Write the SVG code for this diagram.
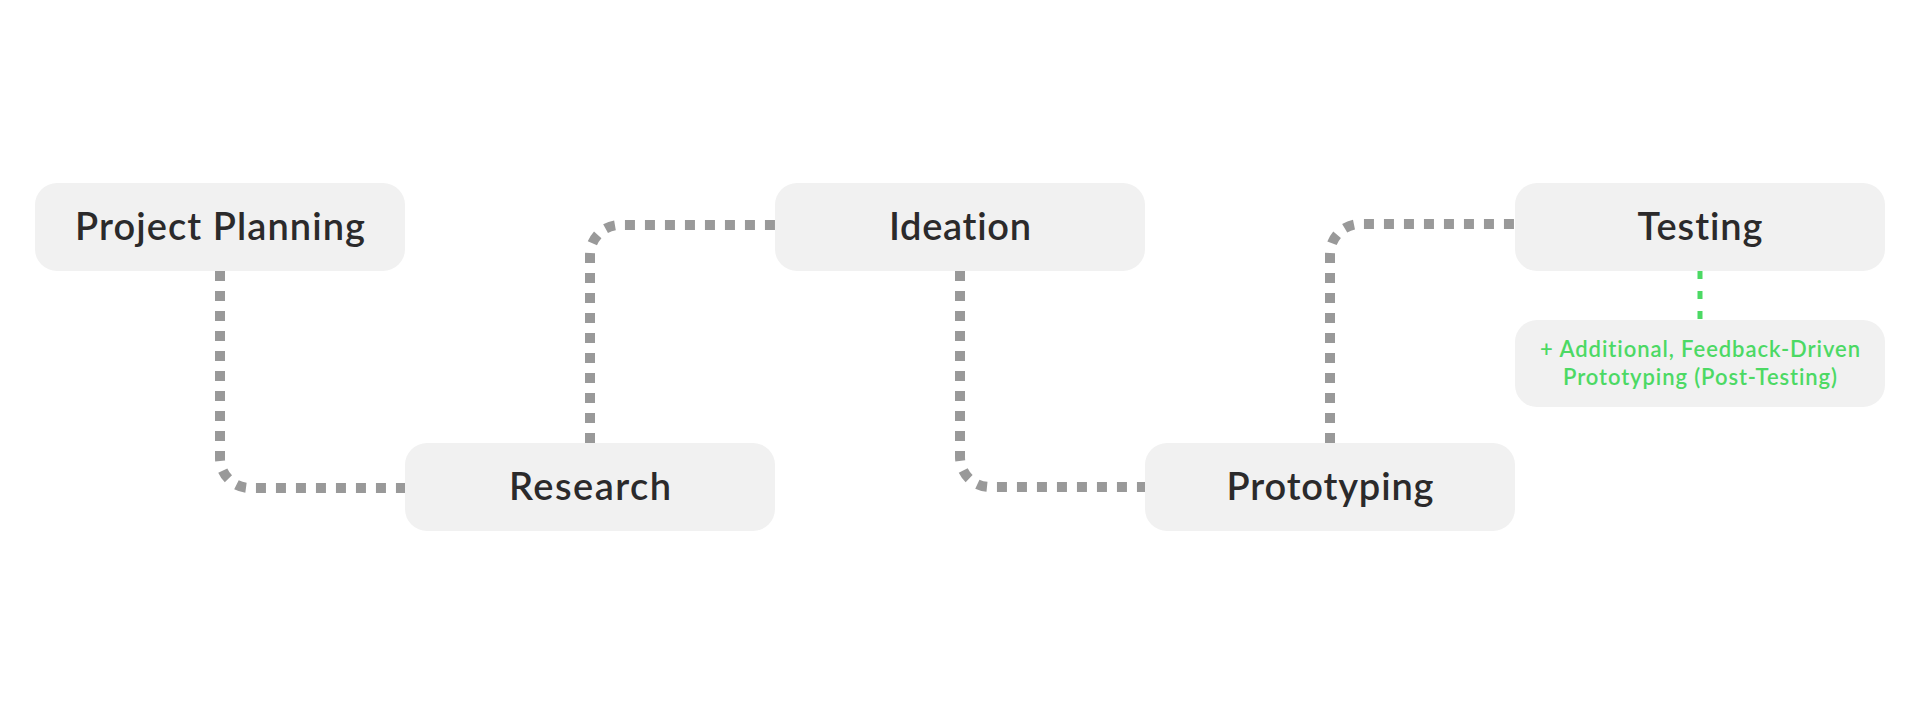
<svg xmlns="http://www.w3.org/2000/svg" width="1920" height="720" viewBox="0 0 1920 720">
  <style>
    .box { fill: #f1f1f1; }
    .label { font-family: Lato, "Open Sans", "Liberation Sans", sans-serif; font-size: 38px; font-weight: 600; fill: #2b2a2b; text-anchor: middle; font-variant-ligatures: none; }
    .note { font-family: Lato, "Open Sans", "Liberation Sans", sans-serif; font-size: 22px; font-weight: 600; fill: #4cd964; text-anchor: middle; font-variant-ligatures: none; }
    .conn { fill: none; stroke: #999999; stroke-width: 10; stroke-dasharray: 10 10; }
    .green { fill: none; stroke: #4cd964; stroke-width: 5; stroke-dasharray: 8 12; }
  </style>
  <rect width="1920" height="720" fill="#ffffff"/>
  <g id="connectors">
    <path class="conn" d="M220,271 V458 A30,30 0 0 0 250,488 H405"/>
    <path class="conn" d="M590,443 V255 A30,30 0 0 1 620,225 H775"/>
    <path class="conn" d="M960,271 V457 A30,30 0 0 0 990,487 H1145"/>
    <path class="conn" d="M1330,443 V254 A30,30 0 0 1 1360,224 H1515"/>
    <path class="green" d="M1700,271 V320"/>
  </g>
  <g id="project-planning">
    <rect class="box" x="35" y="183" width="370" height="88" rx="22"/>
    <text class="label" x="220" y="240" textLength="290">Project Planning</text>
  </g>
  <g id="research">
    <rect class="box" x="405" y="443" width="370" height="88" rx="22"/>
    <text class="label" x="590" y="500" textLength="162">Research</text>
  </g>
  <g id="ideation">
    <rect class="box" x="775" y="183" width="370" height="88" rx="22"/>
    <text class="label" x="960" y="240" textLength="142">Ideation</text>
  </g>
  <g id="prototyping">
    <rect class="box" x="1145" y="443" width="370" height="88" rx="22"/>
    <text class="label" x="1330" y="500" textLength="207">Prototyping</text>
  </g>
  <g id="testing">
    <rect class="box" x="1515" y="183" width="370" height="88" rx="22"/>
    <text class="label" x="1700" y="240" textLength="125">Testing</text>
  </g>
  <g id="note">
    <rect class="box" x="1515" y="320" width="370" height="87" rx="22"/>
    <text class="note" x="1700" y="357" textLength="320">+ Additional, Feedback-Driven</text>
    <text class="note" x="1700" y="385" textLength="274">Prototyping (Post-Testing)</text>
  </g>
</svg>
